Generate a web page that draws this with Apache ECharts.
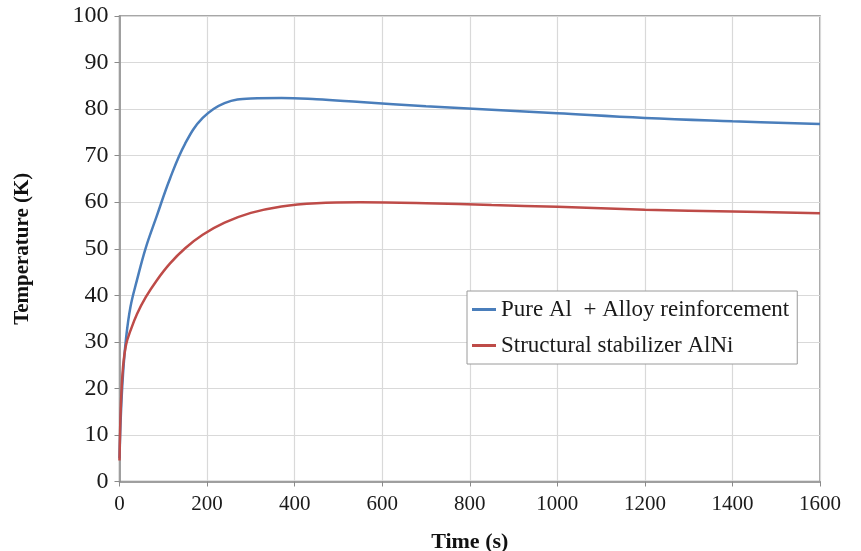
<!DOCTYPE html>
<html>
<head>
<meta charset="utf-8">
<script src="https://cdn.jsdelivr.net/npm/echarts@6/dist/echarts.min.js"></script>
<style>html,body{margin:0;padding:0;background:#fff}#c{width:861px;height:551px}</style>
</head>
<body>
<div id="c"></div>
<script>
var seriesNames = ['Pure Al  + Alloy reinforcement', 'Structural stabilizer AlNi'];
var xTicks = [0, 200, 400, 600, 800, 1000, 1200, 1400, 1600];
var yTicks = [0, 10, 20, 30, 40, 50, 60, 70, 80, 90, 100];

var blueTime = [0, 3, 8, 15, 25, 40, 60, 85, 115, 150, 190, 240, 300, 370, 450, 550, 700, 850, 1000, 1200, 1400, 1600];
var blueTemp = [5, 14, 23, 30.8, 37.5, 43.3, 50.2, 57.0, 65.0, 72.6, 78.1, 81.3, 82.3, 82.4, 82.1, 81.5, 80.6, 79.85, 79.1, 78.1, 77.4, 76.8];

var redTime = [0, 3, 8, 15, 25, 40, 60, 85, 115, 150, 190, 240, 300, 370, 450, 550, 700, 850, 1000, 1200, 1400, 1600];
var redTemp = [4.5, 16, 24.5, 29.4, 32.4, 36.0, 39.6, 43.2, 46.8, 50.1, 53.0, 55.6, 57.7, 59.1, 59.8, 60.0, 59.8, 59.4, 59.0, 58.4, 58.0, 57.6];

function pairs(xs, ys) { return xs.map(function (x, i) { return [x, ys[i]]; }); }

var chart = echarts.init(document.getElementById('c'), null, {renderer: 'canvas'});
var serif = '"Liberation Serif", "Times New Roman", serif';
chart.setOption({
  animation: false,
  backgroundColor: '#ffffff',
  grid: {left: 119.5, right: 41, top: 16, bottom: 69.5, containLabel: false, outerBoundsMode: 'none',
         show: true, borderColor: '#8a8a8a', borderWidth: 1.5, backgroundColor: 'transparent'},
  legend: {
    orient: 'vertical', left: 467, top: 291,
    padding: [7, 8, 7, 5], itemGap: 13,
    itemWidth: 24, itemHeight: 3, icon: 'rect',
    backgroundColor: '#ffffff', borderColor: '#9a9a9a', borderWidth: 1,
    textStyle: {fontFamily: serif, fontSize: 23, color: '#1a1a1a'},
    data: seriesNames
  },
  xAxis: {
    type: 'value', min: xTicks[0], max: xTicks[xTicks.length - 1], interval: 200,
    name: 'Time (s)', nameLocation: 'middle', nameGap: 50,
    nameTextStyle: {fontFamily: serif, fontSize: 22, fontWeight: 'bold', color: '#111'},
    axisLine: {show: true, lineStyle: {color: '#8a8a8a', width: 1.5}},
    axisTick: {show: true, inside: false, length: 5, lineStyle: {color: '#8a8a8a'}},
    axisLabel: {fontFamily: serif, fontSize: 21, color: '#1a1a1a', margin: 12, formatter: function (v) { return String(v); }},
    splitLine: {show: true, lineStyle: {color: '#d9d9d9', width: 1.2}}
  },
  yAxis: {
    type: 'value', min: yTicks[0], max: yTicks[yTicks.length - 1], interval: 10,
    name: 'Temperature (K)', nameLocation: 'middle', nameGap: 86, nameRotate: 90,
    nameTextStyle: {fontFamily: serif, fontSize: 21, fontWeight: 'bold', color: '#111'},
    axisLine: {show: true, lineStyle: {color: '#8a8a8a', width: 1.5}},
    axisTick: {show: true, inside: false, length: 5, lineStyle: {color: '#8a8a8a'}},
    axisLabel: {fontFamily: serif, fontSize: 24, color: '#1a1a1a', margin: 11, formatter: function (v) { return String(v); }},
    splitLine: {show: true, lineStyle: {color: '#d9d9d9', width: 1.2}}
  },
  series: [
    {name: seriesNames[0], type: 'line', smooth: 0.4, symbol: 'none', data: pairs(blueTime, blueTemp),
     lineStyle: {color: '#4a7ebb', width: 2.5}, itemStyle: {color: '#4a7ebb'}, z: 3},
    {name: seriesNames[1], type: 'line', smooth: 0.4, symbol: 'none', data: pairs(redTime, redTemp),
     lineStyle: {color: '#be4b48', width: 2.5}, itemStyle: {color: '#be4b48'}, z: 4}
  ]
});
</script>
</body>
</html>
